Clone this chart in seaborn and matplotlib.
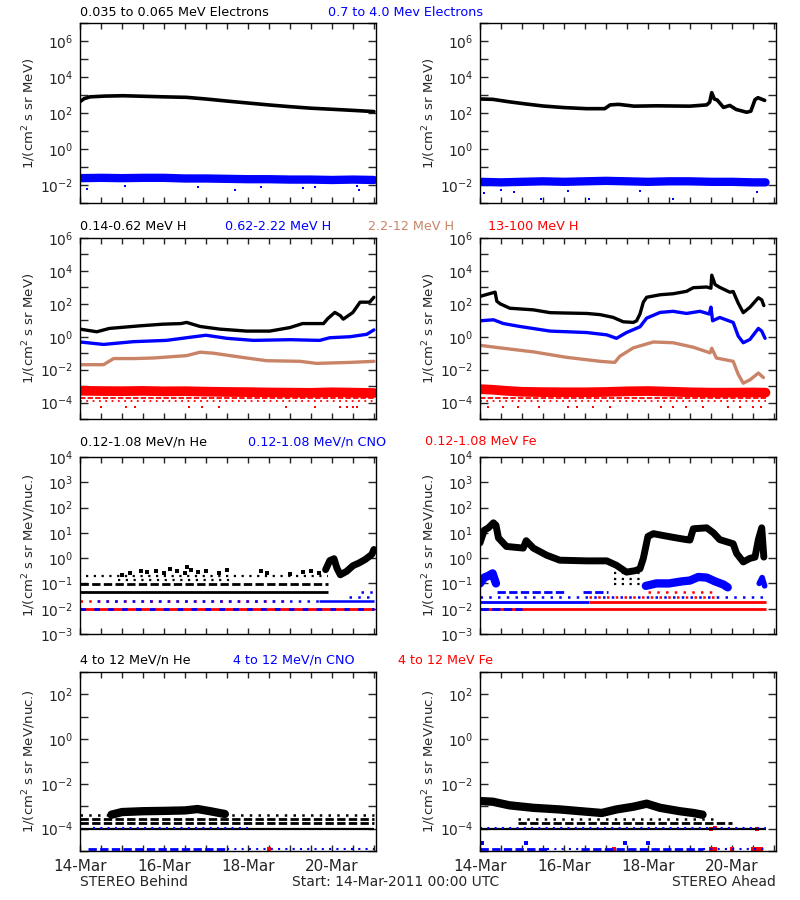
import matplotlib
matplotlib.use('Agg')
import matplotlib.pyplot as plt
from matplotlib.ticker import NullLocator
import seaborn as sns
import numpy as np

# ---------------- data (days since 14-Mar-2011 00:00 UTC) ----------------
# row 1 : electrons
beh_e1_t = [0, 0.1, 0.24, 0.6, 1.03, 1.5, 2.0, 2.54, 3.0, 3.5, 4.05, 4.5, 5.0, 5.5, 6.03, 6.5, 7.0]
beh_e1_v = [430, 630, 790, 870, 910, 850, 790, 740, 600, 460, 350, 280, 225, 185, 160, 140, 120]
beh_e2_t = [0, 0.5, 1, 1.5, 2, 2.5, 3, 3.5, 4, 4.5, 5, 5.5, 6, 6.5, 7.0]
beh_e2_v = [0.024, 0.025, 0.024, 0.025, 0.025, 0.023, 0.023, 0.022, 0.021, 0.021, 0.020, 0.020, 0.019, 0.020, 0.019]
beh_e2_out_t = [0.17, 1.07, 2.8, 3.7, 4.3, 5.3, 5.6, 6.6, 6.65]
beh_e2_out_v = [0.006, 0.0085, 0.0075, 0.005, 0.008, 0.0065, 0.0075, 0.0085, 0.0052]

ahd_e1_t = [0, 0.3, 0.7, 1.1, 1.5, 2.0, 2.54, 2.97, 3.1, 3.3, 3.67, 4.2, 4.6, 5.0, 5.4, 5.47,
            5.52, 5.58, 5.65, 5.8, 5.95, 6.1, 6.35, 6.45, 6.55, 6.62, 6.78]
ahd_e1_v = [600, 575, 417, 316, 245, 200, 174, 174, 282, 302, 240, 251, 245, 240, 282, 398,
            1350, 600, 525, 204, 263, 158, 110, 126, 550, 708, 500]
ahd_e2_t = [0, 0.5, 1, 1.5, 2, 2.5, 3, 3.5, 4, 4.5, 5, 5.5, 6, 6.5, 6.8]
ahd_e2_v = [0.015, 0.014, 0.015, 0.016, 0.015, 0.016, 0.017, 0.016, 0.015, 0.016, 0.016, 0.015, 0.015, 0.014, 0.014]
ahd_e2_out_t = [0.1, 0.5, 0.8, 1.45, 2.1, 2.6, 3.8, 4.6, 6.6]
ahd_e2_out_v = [0.0036, 0.005, 0.0042, 0.0017, 0.0045, 0.0017, 0.0045, 0.0017, 0.004]

# row 2 : protons
beh_h1_t = [0, 0.4, 0.7, 1.43, 1.98, 2.4, 2.54, 2.86, 3.33, 3.97, 4.52, 5.0, 5.3, 5.8, 5.9, 6.07,
            6.2, 6.27, 6.5, 6.67, 6.9, 7.0]
beh_h1_v = [2.9, 2.0, 3.2, 4.6, 5.8, 6.3, 7.4, 4.2, 2.9, 2.2, 2.2, 3.6, 6.3, 6.3, 12.6, 30,
            19, 11.7, 30, 126, 126, 250]
beh_h2_t = [0, 0.56, 1.27, 2.06, 2.54, 3.0, 3.5, 4.13, 5.0, 5.71, 5.95, 6.43, 6.83, 7.0]
beh_h2_v = [0.48, 0.34, 0.5, 0.6, 0.87, 1.23, 0.8, 0.6, 0.66, 0.6, 0.87, 1.0, 1.4, 2.6]
beh_h3_t = [0, 0.56, 0.8, 1.27, 1.75, 2.54, 2.86, 3.17, 3.97, 4.44, 5.24, 5.63, 6.43, 7.0]
beh_h3_v = [0.02, 0.02, 0.047, 0.047, 0.051, 0.071, 0.115, 0.1, 0.051, 0.035, 0.032, 0.024, 0.0275, 0.032]
beh_h4_t = [0, 0.5, 1, 1.5, 2, 2.5, 3, 3.5, 4, 4.5, 5, 5.5, 6, 6.5, 7.0]
beh_h4_v = [5.2e-4, 5.0e-4, 4.9e-4, 5.1e-4, 4.8e-4, 4.9e-4, 4.6e-4, 4.4e-4, 4.3e-4, 4.1e-4,
            4.0e-4, 3.9e-4, 4.2e-4, 4.0e-4, 3.8e-4]
beh_h4_dash = [(1.8e-4, 0.0, 7.0)]
beh_h4_dot = [(1.2e-4, 0.0, 7.0)]
beh_h4_out_t = [0.5, 1.1, 1.3, 2.6, 2.9, 3.3, 4.9, 5.6, 6.2, 6.35, 6.5, 6.6]
beh_h4_out_v = [5.4e-5, 5.4e-5, 5.4e-5, 5.4e-5, 5.4e-5, 5.4e-5, 5.4e-5, 5.4e-5, 5.4e-5, 5.4e-5, 5.4e-5, 5.4e-5]

ahd_h1_t = [0, 0.16, 0.36, 0.4, 0.48, 0.71, 1.27, 1.67, 2.06, 2.54, 2.86, 3.17, 3.41, 3.65, 3.73,
            3.81, 3.89, 3.97, 4.29, 4.6, 4.92, 5.08, 5.4, 5.5, 5.52, 5.6, 5.71, 5.95, 6.03, 6.15,
            6.27, 6.43, 6.63, 6.71, 6.76]
ahd_h1_v = [280, 370, 510, 145, 100, 54, 43, 29, 27.5, 26, 22, 15, 8.1, 7.4, 9.3,
            24, 126, 250, 355, 410, 575, 955, 1050, 890, 5500, 1480, 1000, 510, 560, 110,
            29, 62, 234, 174, 78]
ahd_h2_t = [0, 0.32, 0.56, 0.95, 1.67, 2.54, 3.02, 3.25, 3.49, 3.81, 3.97, 4.29, 4.6, 4.92, 5.24,
            5.46, 5.5, 5.54, 5.71, 6.03, 6.15, 6.27, 6.43, 6.63, 6.71, 6.79]
ahd_h2_v = [9.3, 10.7, 6.3, 4.2, 2.2, 1.8, 1.3, 0.8, 1.8, 4.0, 13.5, 30, 35, 26, 35,
            24, 63, 9.3, 14.8, 7.4, 1.1, 0.43, 0.69, 3.2, 2.2, 0.8]
ahd_h3_t = [0, 0.48, 1.27, 2.06, 2.86, 3.21, 3.33, 3.65, 4.13, 4.6, 5.08, 5.48, 5.52, 5.63, 6.03,
            6.15, 6.27, 6.43, 6.63, 6.75]
ahd_h3_v = [0.3, 0.21, 0.12, 0.056, 0.032, 0.0275, 0.065, 0.21, 0.48, 0.43, 0.23, 0.105, 0.2, 0.051,
            0.032, 0.0052, 0.0015, 0.0024, 0.0062, 0.0033]
ahd_h4_t = [0, 0.3, 0.6, 1, 1.5, 2, 2.5, 3, 3.5, 4, 4.5, 5, 5.5, 6, 6.5, 6.8]
ahd_h4_v = [6.5e-4, 6.0e-4, 5.2e-4, 4.5e-4, 4.3e-4, 4.2e-4, 4.2e-4, 4.4e-4, 4.8e-4, 5.0e-4,
            4.6e-4, 4.2e-4, 4.0e-4, 4.0e-4, 4.1e-4, 4.0e-4]
ahd_h4_dash = [(1.8e-4, 0.0, 6.8)]
ahd_h4_dot = [(1.2e-4, 0.0, 6.8)]
ahd_h4_out_t = [0.2, 0.55, 0.9, 1.4, 2.1, 2.3, 2.7, 3.1, 4.3, 4.6, 4.9, 5.3, 5.9, 6.2, 6.5, 6.7]
ahd_h4_out_v = [5.4e-5] * 16

# row 3 : 0.12-1.08 MeV/n ions
beh_he_solid = [(0.047, 0.0, 5.9)]
beh_he_dash = [(0.094, 0.0, 5.9)]
beh_he_dot = [(0.19, 0.15, 5.9), (0.14, 0.9, 3.6)]
beh_he_pts_t = [1.0, 1.2, 1.45, 1.6, 1.8, 2.0, 2.15, 2.3, 2.5, 2.55, 2.65, 2.8, 3.0, 3.3, 3.5,
                4.3, 4.45, 5.0, 5.3, 5.5, 5.7]
beh_he_pts_v = [0.22, 0.25, 0.3, 0.28, 0.32, 0.27, 0.38, 0.3, 0.25, 0.45, 0.35, 0.28, 0.3, 0.26, 0.35,
                0.3, 0.25, 0.24, 0.28, 0.3, 0.26]
beh_he_t = [5.85, 5.95, 6.05, 6.12, 6.2, 6.35, 6.5, 6.65, 6.8, 6.95, 7.0]
beh_he_v = [0.35, 0.8, 0.95, 0.4, 0.22, 0.3, 0.5, 0.65, 0.9, 1.4, 2.2]
beh_fe_solid = [(0.0095, 0.0, 7.0)]
beh_cno_dash = [(0.0095, 0.0, 7.0)]
beh_cno_dot = [(0.02, 0.4, 5.7), (0.03, 6.4, 7.0), (0.045, 6.7, 7.0)]
beh_cno_solid = [(0.02, 5.7, 7.0)]
beh_fe_dot = [(0.02, 0.0, 5.0)]

ahd_he_t = [0, 0.1, 0.2, 0.32, 0.38, 0.44, 0.63, 1.03, 1.1, 1.27, 1.59, 1.9, 2.54, 3.02, 3.25,
            3.49, 3.7, 3.81, 3.89, 4.0, 4.13, 4.37, 4.68, 4.92, 5.0, 5.08, 5.4, 5.56, 5.71, 6.03,
            6.11, 6.27, 6.43, 6.55, 6.63, 6.71, 6.76]
ahd_he_v = [4.0, 12.6, 15.8, 25, 20, 6.3, 2.9, 2.5, 4.9, 2.5, 1.3, 0.83, 0.78, 0.78, 0.52,
            0.28, 0.32, 0.38, 0.98, 7.2, 9.3, 7.8, 6.3, 5.4, 5.2, 14.5, 15.8, 10, 5.4, 3.7,
            1.55, 0.71, 0.98, 1.1, 5.4, 15.8, 1.1]
ahd_he_dot = [(0.25, 3.2, 3.85), (0.15, 3.2, 3.85), (0.094, 3.2, 3.85)]
ahd_cno_a_t = [0.0, 0.1, 0.2, 0.3, 0.38]
ahd_cno_a_v = [0.1, 0.17, 0.2, 0.25, 0.1]
ahd_cno_b_t = [3.95, 4.2, 4.5, 4.8, 5.0, 5.2, 5.4, 5.6, 5.8, 5.9]
ahd_cno_b_v = [0.08, 0.1, 0.1, 0.12, 0.13, 0.18, 0.17, 0.12, 0.09, 0.07]
ahd_cno_c_t = [6.65, 6.72, 6.78]
ahd_cno_c_v = [0.1, 0.17, 0.08]
ahd_fe_solid = [(0.0095, 0.0, 6.8), (0.019, 2.6, 6.8)]
ahd_fe_dot = [(0.029, 2.6, 5.7), (0.045, 4.0, 5.6)]
ahd_cno_solid = [(0.019, 0.0, 2.6)]
ahd_cno_dash = [(0.0095, 0.0, 1.0), (0.045, 0.4, 2.0), (0.045, 2.45, 3.05)]
ahd_cno_dot = [(0.029, 0.0, 6.8)]

# row 4 : 4-12 MeV/n ions
beh_he4_t = [0.75, 1.0, 1.5, 2.0, 2.5, 2.8, 3.1, 3.45]
beh_he4_v = [4.2e-4, 5.5e-4, 6.0e-4, 6.2e-4, 6.5e-4, 7.5e-4, 6.0e-4, 4.5e-4]
beh_he4_solid = [(1.0e-4, 0.0, 7.0)]
beh_he4_dash = [(1.7e-4, 0.0, 7.0), (2.8e-4, 0.0, 7.0)]
beh_he4_dot = [(4.0e-4, 3.4, 7.0), (4.0e-4, 0.0, 0.8)]
beh_cno4_dot = [(1.05e-4, 0.3, 4.0), (1.2e-5, 3.5, 7.0)]
beh_cno4_dash = [(1.2e-5, 0.2, 3.5)]
beh_fe4_t = [4.5]
beh_fe4_v = [1.2e-5]

ahd_he4_t = [0, 0.3, 0.7, 1.27, 1.9, 2.54, 2.9, 3.25, 3.65, 3.97, 4.29, 4.76, 5.08, 5.3]
ahd_he4_v = [1.7e-3, 1.6e-3, 1.1e-3, 8.5e-4, 7.2e-4, 5.7e-4, 5.0e-4, 7.2e-4, 9.5e-4, 1.3e-3,
             8.5e-4, 6.0e-4, 5.0e-4, 4.2e-4]
ahd_he4_solid = [(1.0e-4, 0.0, 6.8)]
ahd_he4_dash = [(1.7e-4, 0.9, 6.0)]
ahd_he4_dot = [(2.8e-4, 0.9, 5.6)]
ahd_cno4_dot = [(1.05e-4, 0.0, 6.8), (1.2e-5, 1.6, 2.4), (1.2e-5, 5.3, 6.8)]
ahd_cno4_dash = [(1.2e-5, 0.0, 1.6), (1.2e-5, 2.4, 5.3)]
ahd_cno4_pts_t = [0.05, 1.1, 3.45, 4.0]
ahd_cno4_pts_v = [2.2e-5, 2.2e-5, 2.2e-5, 2.2e-5]
ahd_fe4_t = [5.5, 5.6, 6.6, 3.2, 5.5, 5.6, 6.0, 6.5, 6.6, 6.7]
ahd_fe4_v = [1e-4, 1.1e-4, 1e-4, 1.2e-5, 1.2e-5, 1.2e-5, 1.2e-5, 1.2e-5, 1.2e-5, 1.2e-5]

day_ticks = ['14-Mar', '', '', '', '16-Mar', '', '', '', '18-Mar', '', '', '', '20-Mar', '', '']

# ---------------- styling ----------------
sns.set_style('ticks')
plt.rcParams['font.family'] = ['DejaVu Sans']
plt.rcParams['mathtext.default'] = 'regular'

BLUE = '#0000ff'
BROWN = '#c98468'
RED = '#ff0000'
DASH = (0, (3, 1.2))
DOT = (0, (1, 2.5))


def curve(ax, t, v, color, lw=2.2):
    sns.lineplot(x=t, y=v, color=color, lw=lw, ax=ax, sort=False, estimator=None)


def dots(ax, t, v, color, s=5):
    sns.scatterplot(x=t, y=v, color=color, marker='s', s=s, linewidth=0, ax=ax)


def levels(ax, segs, color, ls='-', lw=1.6):
    for v, a, b in segs:
        ax.plot([a, b], [v, v], color=color, ls=ls, lw=lw, solid_capstyle='butt')


def setup(ax, lo, hi, step, bottom, ylabel):
    ax.set_yscale('log')
    ax.set_ylim(10.0 ** lo, 10.0 ** hi)
    ax.set_xlim(0, 7.05)
    ex = list(range(lo, hi + 1))
    ax.set_yticks([10.0 ** e for e in ex])
    ax.set_yticklabels(['$10^{%d}$' % e if (e % step == 0) else '' for e in ex])
    ax.yaxis.set_minor_locator(NullLocator())
    ax.set_xticks(np.arange(0, 7.01, 0.5))
    ax.set_xticklabels(day_ticks if bottom else [''] * 15)
    ax.tick_params(axis='x', direction='in', top=True, length=4, width=1, labelsize=11, pad=6)
    ax.tick_params(axis='y', direction='in', right=True, length=6, width=1, labelsize=10, pad=5)
    for sp in ax.spines.values():
        sp.set_linewidth(1)
        sp.set_color('black')
    ax.set_ylabel(ylabel, fontsize=9.5)
    ax.yaxis.set_label_coords(-42 / 296, 0.5)


fig = plt.figure(figsize=(8, 9), dpi=100)
W, H = 800.0, 900.0


def panel(x0, top, bot):
    return fig.add_axes([x0 / W, 1 - bot / H, 296 / W, (bot - top) / H])


def label(x, y, s, color='black'):
    fig.text(x / W, 1 - y / H, s, color=color, fontsize=9.2, va='center', ha='left')


unit1 = '1/(cm$^2$ s sr MeV)'
unit2 = '1/(cm$^2$ s sr MeV/nuc.)'

# row 1
for x0, e1t, e1v, e2t, e2v, ot, ov in [(80, beh_e1_t, beh_e1_v, beh_e2_t, beh_e2_v, beh_e2_out_t, beh_e2_out_v),
                                      (480, ahd_e1_t, ahd_e1_v, ahd_e2_t, ahd_e2_v, ahd_e2_out_t, ahd_e2_out_v)]:
    ax = panel(x0, 23, 203)
    curve(ax, e2t, e2v, BLUE, lw=6)
    dots(ax, ot, ov, BLUE, s=4)
    curve(ax, e1t, e1v, 'black', lw=2.6)
    setup(ax, -3, 7, 2, False, unit1)

# row 2
for x0, d in [(80, (beh_h1_t, beh_h1_v, beh_h2_t, beh_h2_v, beh_h3_t, beh_h3_v, beh_h4_t, beh_h4_v,
                    beh_h4_dash, beh_h4_dot, beh_h4_out_t, beh_h4_out_v)),
              (480, (ahd_h1_t, ahd_h1_v, ahd_h2_t, ahd_h2_v, ahd_h3_t, ahd_h3_v, ahd_h4_t, ahd_h4_v,
                     ahd_h4_dash, ahd_h4_dot, ahd_h4_out_t, ahd_h4_out_v))]:
    ax = panel(x0, 238, 419)
    levels(ax, d[8], RED, DASH, lw=1.3)
    levels(ax, d[9], RED, DOT, lw=1.3)
    dots(ax, d[10], d[11], RED, s=3)
    curve(ax, d[6], d[7], RED, lw=7)
    curve(ax, d[4], d[5], BROWN, lw=2.4)
    curve(ax, d[2], d[3], BLUE, lw=2.4)
    curve(ax, d[0], d[1], 'black', lw=2.4)
    setup(ax, -5, 6, 2, False, unit1)

# row 3 behind
ax = panel(80, 457, 634)
levels(ax, beh_fe_solid, RED, '-', lw=2)
levels(ax, beh_fe_dot, RED, DOT, lw=1.8)
levels(ax, beh_cno_dash, BLUE, (0, (2, 3)), lw=2)
levels(ax, beh_cno_dot, BLUE, DOT, lw=1.8)
levels(ax, beh_cno_solid, BLUE, '-', lw=1.8)
levels(ax, beh_he_solid, 'black', '-', lw=2)
levels(ax, beh_he_dash, 'black', DASH, lw=2)
levels(ax, beh_he_dot, 'black', DOT, lw=1.6)
dots(ax, beh_he_pts_t, beh_he_pts_v, 'black', s=5)
curve(ax, beh_he_t, beh_he_v, 'black', lw=5)
setup(ax, -3, 4, 1, False, unit2)

# row 3 ahead
ax = panel(480, 457, 634)
levels(ax, ahd_cno_solid, BLUE, '-', lw=2)
levels(ax, ahd_cno_dot, BLUE, DOT, lw=1.8)
levels(ax, ahd_fe_solid, RED, '-', lw=2)
levels(ax, ahd_fe_dot, RED, DOT, lw=1.8)
levels(ax, ahd_cno_dash, BLUE, DASH, lw=2)
curve(ax, ahd_cno_a_t, ahd_cno_a_v, BLUE, lw=6)
curve(ax, ahd_cno_b_t, ahd_cno_b_v, BLUE, lw=6)
curve(ax, ahd_cno_c_t, ahd_cno_c_v, BLUE, lw=4)
levels(ax, ahd_he_dot, 'black', DOT, lw=1.6)
curve(ax, ahd_he_t, ahd_he_v, 'black', lw=5)
setup(ax, -3, 4, 1, False, unit2)

# row 4 behind
ax = panel(80, 672, 851)
levels(ax, beh_he4_solid, 'black', '-', lw=1.6)
levels(ax, beh_he4_dash, 'black', DASH, lw=2)
levels(ax, beh_he4_dot, 'black', DOT, lw=1.8)
curve(ax, beh_he4_t, beh_he4_v, 'black', lw=6)
levels(ax, beh_cno4_dot, BLUE, DOT, lw=1.5)
levels(ax, beh_cno4_dash, BLUE, DASH, lw=2)
dots(ax, beh_fe4_t, beh_fe4_v, RED, s=8)
setup(ax, -5, 3, 2, True, unit2)

# row 4 ahead
ax = panel(480, 672, 851)
levels(ax, ahd_he4_solid, 'black', '-', lw=1.6)
levels(ax, ahd_he4_dash, 'black', DASH, lw=2)
levels(ax, ahd_he4_dot, 'black', DOT, lw=1.8)
curve(ax, ahd_he4_t, ahd_he4_v, 'black', lw=6)
levels(ax, ahd_cno4_dot, BLUE, DOT, lw=1.5)
levels(ax, ahd_cno4_dash, BLUE, DASH, lw=2)
dots(ax, ahd_cno4_pts_t, ahd_cno4_pts_v, BLUE, s=8)
dots(ax, ahd_fe4_t, ahd_fe4_v, RED, s=8)
setup(ax, -5, 3, 2, True, unit2)

# panel titles
label(80, 13, '0.035 to 0.065 MeV Electrons')
label(328, 13, '0.7 to 4.0 Mev Electrons', BLUE)
label(80, 226, '0.14-0.62 MeV H')
label(225, 226, '0.62-2.22 MeV H', BLUE)
label(368, 226, '2.2-12 MeV H', BROWN)
label(488, 226, '13-100 MeV H', RED)
label(80, 442, '0.12-1.08 MeV/n He')
label(248, 442, '0.12-1.08 MeV/n CNO', BLUE)
label(425, 442, '0.12-1.08 MeV Fe', RED)
label(80, 660, '4 to 12 MeV/n He')
label(233, 660, '4 to 12 MeV/n CNO', BLUE)
label(398, 660, '4 to 12 MeV Fe', RED)

fig.text(80 / W, 1 - 882 / H, 'STEREO Behind', fontsize=10, va='center', ha='left')
fig.text(292 / W, 1 - 882 / H, 'Start: 14-Mar-2011 00:00 UTC', fontsize=10, va='center', ha='left')
fig.text(776 / W, 1 - 882 / H, 'STEREO Ahead', fontsize=10, va='center', ha='right')

fig.savefig('out.png', dpi=100, facecolor='white')
